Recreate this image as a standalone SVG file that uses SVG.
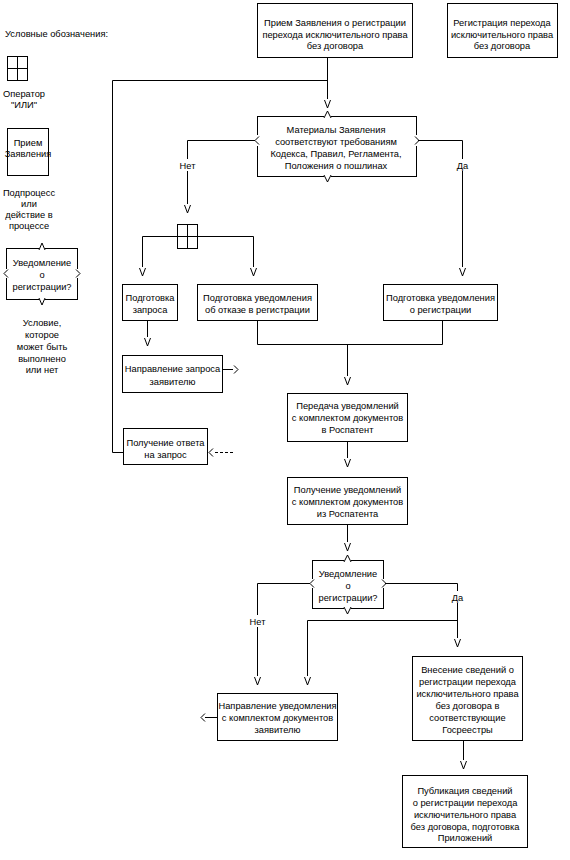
<svg xmlns="http://www.w3.org/2000/svg" xmlns:xlink="http://www.w3.org/1999/xlink" width="570" height="860" viewBox="0 0 570 860">
<style>
rect.b{fill:#fff;stroke:#000;stroke-width:1}
.ln{fill:none;stroke:#000;stroke-width:1}
.cv{fill:none;stroke:#fff;stroke-width:3}
text{font-family:"Liberation Sans",Arial,sans-serif;font-size:9.3px;fill:#000;text-anchor:middle}
.lbl{fill:#fff;stroke:none}
</style>
<defs>
<path id="av" d="M-3,-8 L0,0 L3,-8" class="ln"/>
</defs>
<rect width="570" height="860" fill="#fff"/>

<g id="connectors">
<path class="ln" d="M327.5,57 V99 M327.5,80.5 H112.5 V452.5 H123"/>
<use xlink:href="#av" x="327.5" y="108"/>
<path class="ln" d="M255,140.5 H187.5 V204"/>
<use xlink:href="#av" x="187.5" y="213"/>
<path class="ln" d="M418,140.5 H462.5 V267"/>
<use xlink:href="#av" x="462.5" y="276"/>
<path class="ln" d="M142.5,267 V236.5 H253.5 V267"/>
<use xlink:href="#av" x="142.5" y="276"/>
<use xlink:href="#av" x="253.5" y="276"/>
<path class="ln" d="M147.5,320 V337"/>
<use xlink:href="#av" x="147.5" y="346"/>
<path class="ln" d="M222,369.5 H233 M234,365.5 L238,369.5 L234,373.5"/>
<path class="ln" d="M257.5,320 V344.5 H442.5 V320 M347.5,344.5 V376"/>
<use xlink:href="#av" x="347.5" y="385"/>
<path class="ln" d="M347.5,441 V458"/>
<use xlink:href="#av" x="347.5" y="467"/>
<path class="ln" d="M215,452.5 H234" stroke-dasharray="3,2"/>
<path class="ln" d="M213,448.5 L209,452.5 L213,456.5"/>
<path class="ln" d="M347.5,524 V542"/>
<use xlink:href="#av" x="347.5" y="551"/>
<path class="ln" d="M310,583.5 H257.5 V676"/>
<use xlink:href="#av" x="257.5" y="685"/>
<path class="ln" d="M385,583.5 H457.5 V638 M457.5,620.5 H307.5 V676"/>
<use xlink:href="#av" x="307.5" y="685"/>
<use xlink:href="#av" x="457.5" y="647"/>
<path class="ln" d="M205,717.5 H217 M205,713.5 L201,717.5 L205,721.5"/>
<path class="ln" d="M463.5,740 V760"/>
<use xlink:href="#av" x="463.5" y="769"/>
<rect class="lbl" x="176" y="159" width="23" height="12"/>
<text x="187.5" y="169">Нет</text>
<rect class="lbl" x="453" y="159" width="18" height="12"/>
<text x="462.5" y="169">Да</text>
<rect class="lbl" x="246" y="615" width="23" height="12"/>
<text x="257.5" y="625">Нет</text>
<rect class="lbl" x="448" y="591" width="18" height="12"/>
<text x="457.5" y="601">Да</text>
</g>

<g id="legend">
<text x="5" y="37" style="text-anchor:start">Условные обозначения:</text>
<rect class="b" x="7.5" y="56.5" width="20" height="24"/>
<path class="ln" d="M17.5,56.5 V80.5 M7.5,68.5 H27.5"/>
<text x="24" y="97">Оператор</text>
<text x="24" y="108">"ИЛИ"</text>
<rect class="b" x="7.5" y="128.5" width="41" height="47"/>
<text x="28" y="146">Прием</text>
<text x="28" y="157">Заявления</text>
<text x="29" y="196">Подпроцесс</text>
<text x="29" y="207">или</text>
<text x="29" y="218">действие в</text>
<text x="29" y="229">процессе</text>
<rect class="b" x="6.5" y="248.5" width="71" height="51"/>
<path class="cv" d="M39,248.5 H45 M39,299.5 H45 M6.5,269 V278 M77.5,269 V278"/>
<path class="ln" d="M39,250 L42,243 L45,250 M39,298 L42,305 L45,298 M8,269.5 L4,273.5 L8,277.5 M76,269.5 L80,273.5 L76,277.5"/>
<text x="42" y="266">Уведомление</text>
<text x="42" y="278">о</text>
<text x="42" y="290">регистрации?</text>
<text x="42" y="326">Условие,</text>
<text x="42" y="338">которое</text>
<text x="42" y="350">может быть</text>
<text x="42" y="362">выполнено</text>
<text x="42" y="373">или нет</text>
</g>

<g id="n-priem">
<rect class="b" x="257.5" y="3.5" width="155" height="54"/>
<text x="335" y="26">Прием Заявления о регистрации</text>
<text x="335" y="37.5">перехода исключительного права</text>
<text x="335" y="49">без договора</text>
</g>
<g id="n-title">
<rect class="b" x="447.5" y="3.5" width="110" height="54"/>
<text x="502" y="26">Регистрация перехода</text>
<text x="502" y="37.5">исключительного права</text>
<text x="502" y="49">без договора</text>
</g>

<g id="n-check">
<rect class="b" x="257.5" y="116.5" width="159" height="60"/>
<path class="cv" d="M324,116.5 H331 M324,176.5 H331 M257.5,135 V146 M416.5,135 V146"/>
<path class="ln" d="M324,118 L327.5,111 L331,118 M324,175 L327.5,182 L331,175 M259,136.5 L255,140.5 L259,144.5 M415,136.5 L419,140.5 L415,144.5"/>
<text x="336" y="133">Материалы Заявления</text>
<text x="336" y="145">соответствуют требованиям</text>
<text x="336" y="157">Кодекса, Правил, Регламента,</text>
<text x="336" y="169">Положения о пошлинах</text>
</g>

<g id="n-or">
<rect class="b" x="177.5" y="224.5" width="20" height="24"/>
<path class="ln" d="M187.5,224.5 V248.5 M177.5,236.5 H197.5"/>
</g>

<g id="n-zapros">
<rect class="b" x="122.5" y="284.5" width="55" height="36"/>
<text x="150" y="301">Подготовка</text>
<text x="150" y="313">запроса</text>
</g>
<g id="n-otkaz">
<rect class="b" x="197.5" y="284.5" width="120" height="36"/>
<text x="257.5" y="301">Подготовка уведомления</text>
<text x="257.5" y="313">об отказе в регистрации</text>
</g>
<g id="n-uvreg">
<rect class="b" x="383.5" y="284.5" width="114" height="36"/>
<text x="440.5" y="301">Подготовка уведомления</text>
<text x="440.5" y="313">о регистрации</text>
</g>
<g id="n-napr-zapros">
<rect class="b" x="122.5" y="355.5" width="100" height="37"/>
<text x="172.5" y="372">Направление запроса</text>
<text x="172.5" y="385">заявителю</text>
</g>
<g id="n-otvet">
<rect class="b" x="123.5" y="428.5" width="84" height="36"/>
<text x="165.5" y="446">Получение ответа</text>
<text x="165.5" y="458">на запрос</text>
</g>
<g id="n-peredacha">
<rect class="b" x="287.5" y="393.5" width="120" height="48"/>
<text x="347.5" y="409">Передача уведомлений</text>
<text x="347.5" y="421">с комплектом документов</text>
<text x="347.5" y="433">в Роспатент</text>
</g>
<g id="n-poluch">
<rect class="b" x="287.5" y="477.5" width="120" height="47"/>
<text x="347.5" y="493">Получение уведомлений</text>
<text x="347.5" y="505">с комплектом документов</text>
<text x="347.5" y="517">из Роспатента</text>
</g>

<g id="n-check2">
<rect class="b" x="312.5" y="560.5" width="71" height="48"/>
<path class="cv" d="M344,560.5 H351 M344,608.5 H351 M312.5,579 V588 M383.5,579 V588"/>
<path class="ln" d="M344,562 L347.5,555 L351,562 M344,607 L347.5,614 L351,607 M314,579.5 L310,583.5 L314,587.5 M382,579.5 L386,583.5 L382,587.5"/>
<text x="348" y="577">Уведомление</text>
<text x="348" y="589">о</text>
<text x="348" y="601">регистрации?</text>
</g>

<g id="n-napr-uv">
<rect class="b" x="217.5" y="693.5" width="120" height="47"/>
<text x="277.5" y="709">Направление уведомления</text>
<text x="277.5" y="721">с комплектом документов</text>
<text x="277.5" y="733">заявителю</text>
</g>
<g id="n-vnesenie">
<rect class="b" x="412.5" y="656.5" width="110" height="84"/>
<text x="467.5" y="673">Внесение сведений о</text>
<text x="467.5" y="685">регистрации перехода</text>
<text x="467.5" y="697">исключительного права</text>
<text x="467.5" y="709">без договора в</text>
<text x="467.5" y="721">соответствующие</text>
<text x="467.5" y="733">Госреестры</text>
</g>
<g id="n-publ">
<rect class="b" x="402.5" y="775.5" width="125" height="72"/>
<text x="465" y="794">Публикация сведений</text>
<text x="465" y="806">о регистрации перехода</text>
<text x="465" y="818">исключительного права</text>
<text x="465" y="830">без договора, подготовка</text>
<text x="465" y="841">Приложений</text>
</g>
</svg>
